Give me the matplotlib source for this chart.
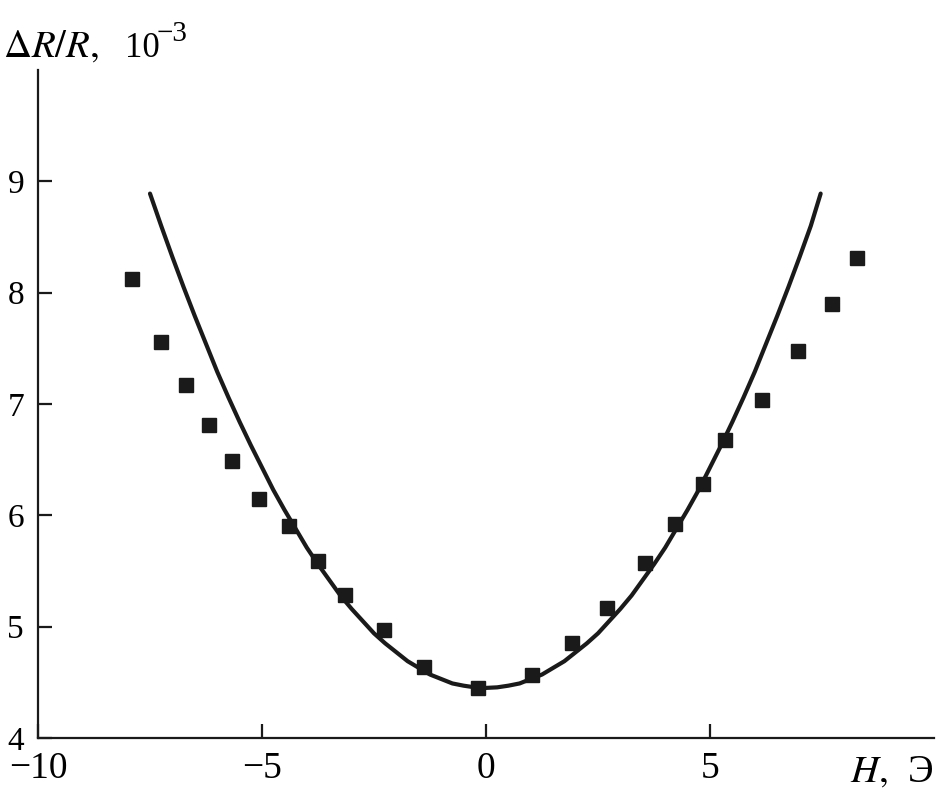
import matplotlib
matplotlib.use('Agg')
import matplotlib.pyplot as plt

plt.rcParams['font.family'] = ['Liberation Serif', 'DejaVu Serif']
plt.rcParams['mathtext.fontset'] = 'stix'

# Measured points (squares)
h_meas = [-7.90, -7.25, -6.70, -6.18, -5.67, -5.07, -4.40, -3.75, -3.15, -2.28, -1.38, -0.18,
          1.03, 1.92, 2.70, 3.55, 4.22, 4.84, 5.33, 6.16, 6.96, 7.72, 8.28]
dr_meas = [8.12, 7.56, 7.17, 6.81, 6.49, 6.15, 5.90, 5.59, 5.28, 4.97, 4.64, 4.45,
           4.57, 4.85, 5.17, 5.57, 5.92, 6.28, 6.68, 7.04, 7.48, 7.90, 8.31]

# Calculated curve
h_curve = [-7.5, -7.25, -7.0, -6.75, -6.5, -6.25, -6.0, -5.75, -5.5, -5.25, -5.0, -4.75, -4.5,
           -4.25, -4.0, -3.75, -3.5, -3.25, -3.0, -2.75, -2.5, -2.25, -2.0, -1.75, -1.5, -1.25,
           -1.0, -0.75, -0.5, -0.25, 0.0, 0.25, 0.5, 0.75, 1.0, 1.25, 1.5, 1.75, 2.0, 2.25, 2.5,
           2.75, 3.0, 3.25, 3.5, 3.75, 4.0, 4.25, 4.5, 4.75, 5.0, 5.25, 5.5, 5.75, 6.0, 6.25, 6.5,
           6.75, 7.0, 7.25, 7.47]
dr_curve = [8.89, 8.60, 8.32, 8.05, 7.79, 7.54, 7.29, 7.06, 6.84, 6.63, 6.43, 6.23, 6.05,
            5.88, 5.71, 5.56, 5.42, 5.28, 5.16, 5.05, 4.94, 4.85, 4.77, 4.69, 4.63, 4.57,
            4.53, 4.49, 4.47, 4.455, 4.45, 4.455, 4.47, 4.49, 4.53, 4.57, 4.63, 4.69, 4.77, 4.85, 4.94,
            5.05, 5.16, 5.28, 5.42, 5.56, 5.71, 5.88, 6.05, 6.23, 6.43, 6.63, 6.84, 7.06, 7.29, 7.54, 7.79,
            8.05, 8.32, 8.60, 8.89]

x_ticks = [-10, -5, 0, 5]
x_labels = ['\u221210', '\u22125', '0', '5']
y_ticks = [4, 5, 6, 7, 8, 9]

W, H = 939, 798
fig = plt.figure(figsize=(W / 100, H / 100), dpi=100)
ax = fig.add_axes([38 / W, 1 - 738 / H, 896 / W, 668 / H])

ax.plot(h_curve, dr_curve, color='#1a1a1a', lw=3.0, solid_capstyle='round', zorder=2)
ax.plot(h_meas, dr_meas, ls='none', marker='s', ms=10, color='#1a1a1a', zorder=3)

ax.set_xlim(-10, 10)
ax.set_ylim(4, 10)
ax.set_xticks(x_ticks)
ax.set_yticks(y_ticks)
ax.set_xticklabels(x_labels)

for s in ['top', 'right']:
    ax.spines[s].set_visible(False)
for s in ['left', 'bottom']:
    ax.spines[s].set_linewidth(1.6)
    ax.spines[s].set_color('#1a1a1a')

ax.tick_params(direction='in', length=10, width=1.6, color='#1a1a1a')
ax.tick_params(axis='x', pad=10, labelsize=27)
ax.tick_params(axis='y', pad=10, labelsize=24)

# y axis label in pieces: "ΔR/R, 10^-3"
fig.text(3 / W, 1 - 57 / H, r'$\Delta R/R,$', fontsize=28, va='baseline', ha='left')
fig.text(125 / W, 1 - 57 / H, '10', fontsize=25, va='baseline', ha='left')
fig.text(157 / W, 1 - 41 / H, '\u22123', fontsize=21, va='baseline', ha='left')

# x axis label "H, Э"
fig.text(850 / W, 1 - 782 / H, r'$H,$', fontsize=28, va='baseline', ha='left')
fig.text(933 / W, 1 - 782 / H, 'Э', fontsize=28, va='baseline', ha='right')

fig.savefig('out.png', dpi=100)
